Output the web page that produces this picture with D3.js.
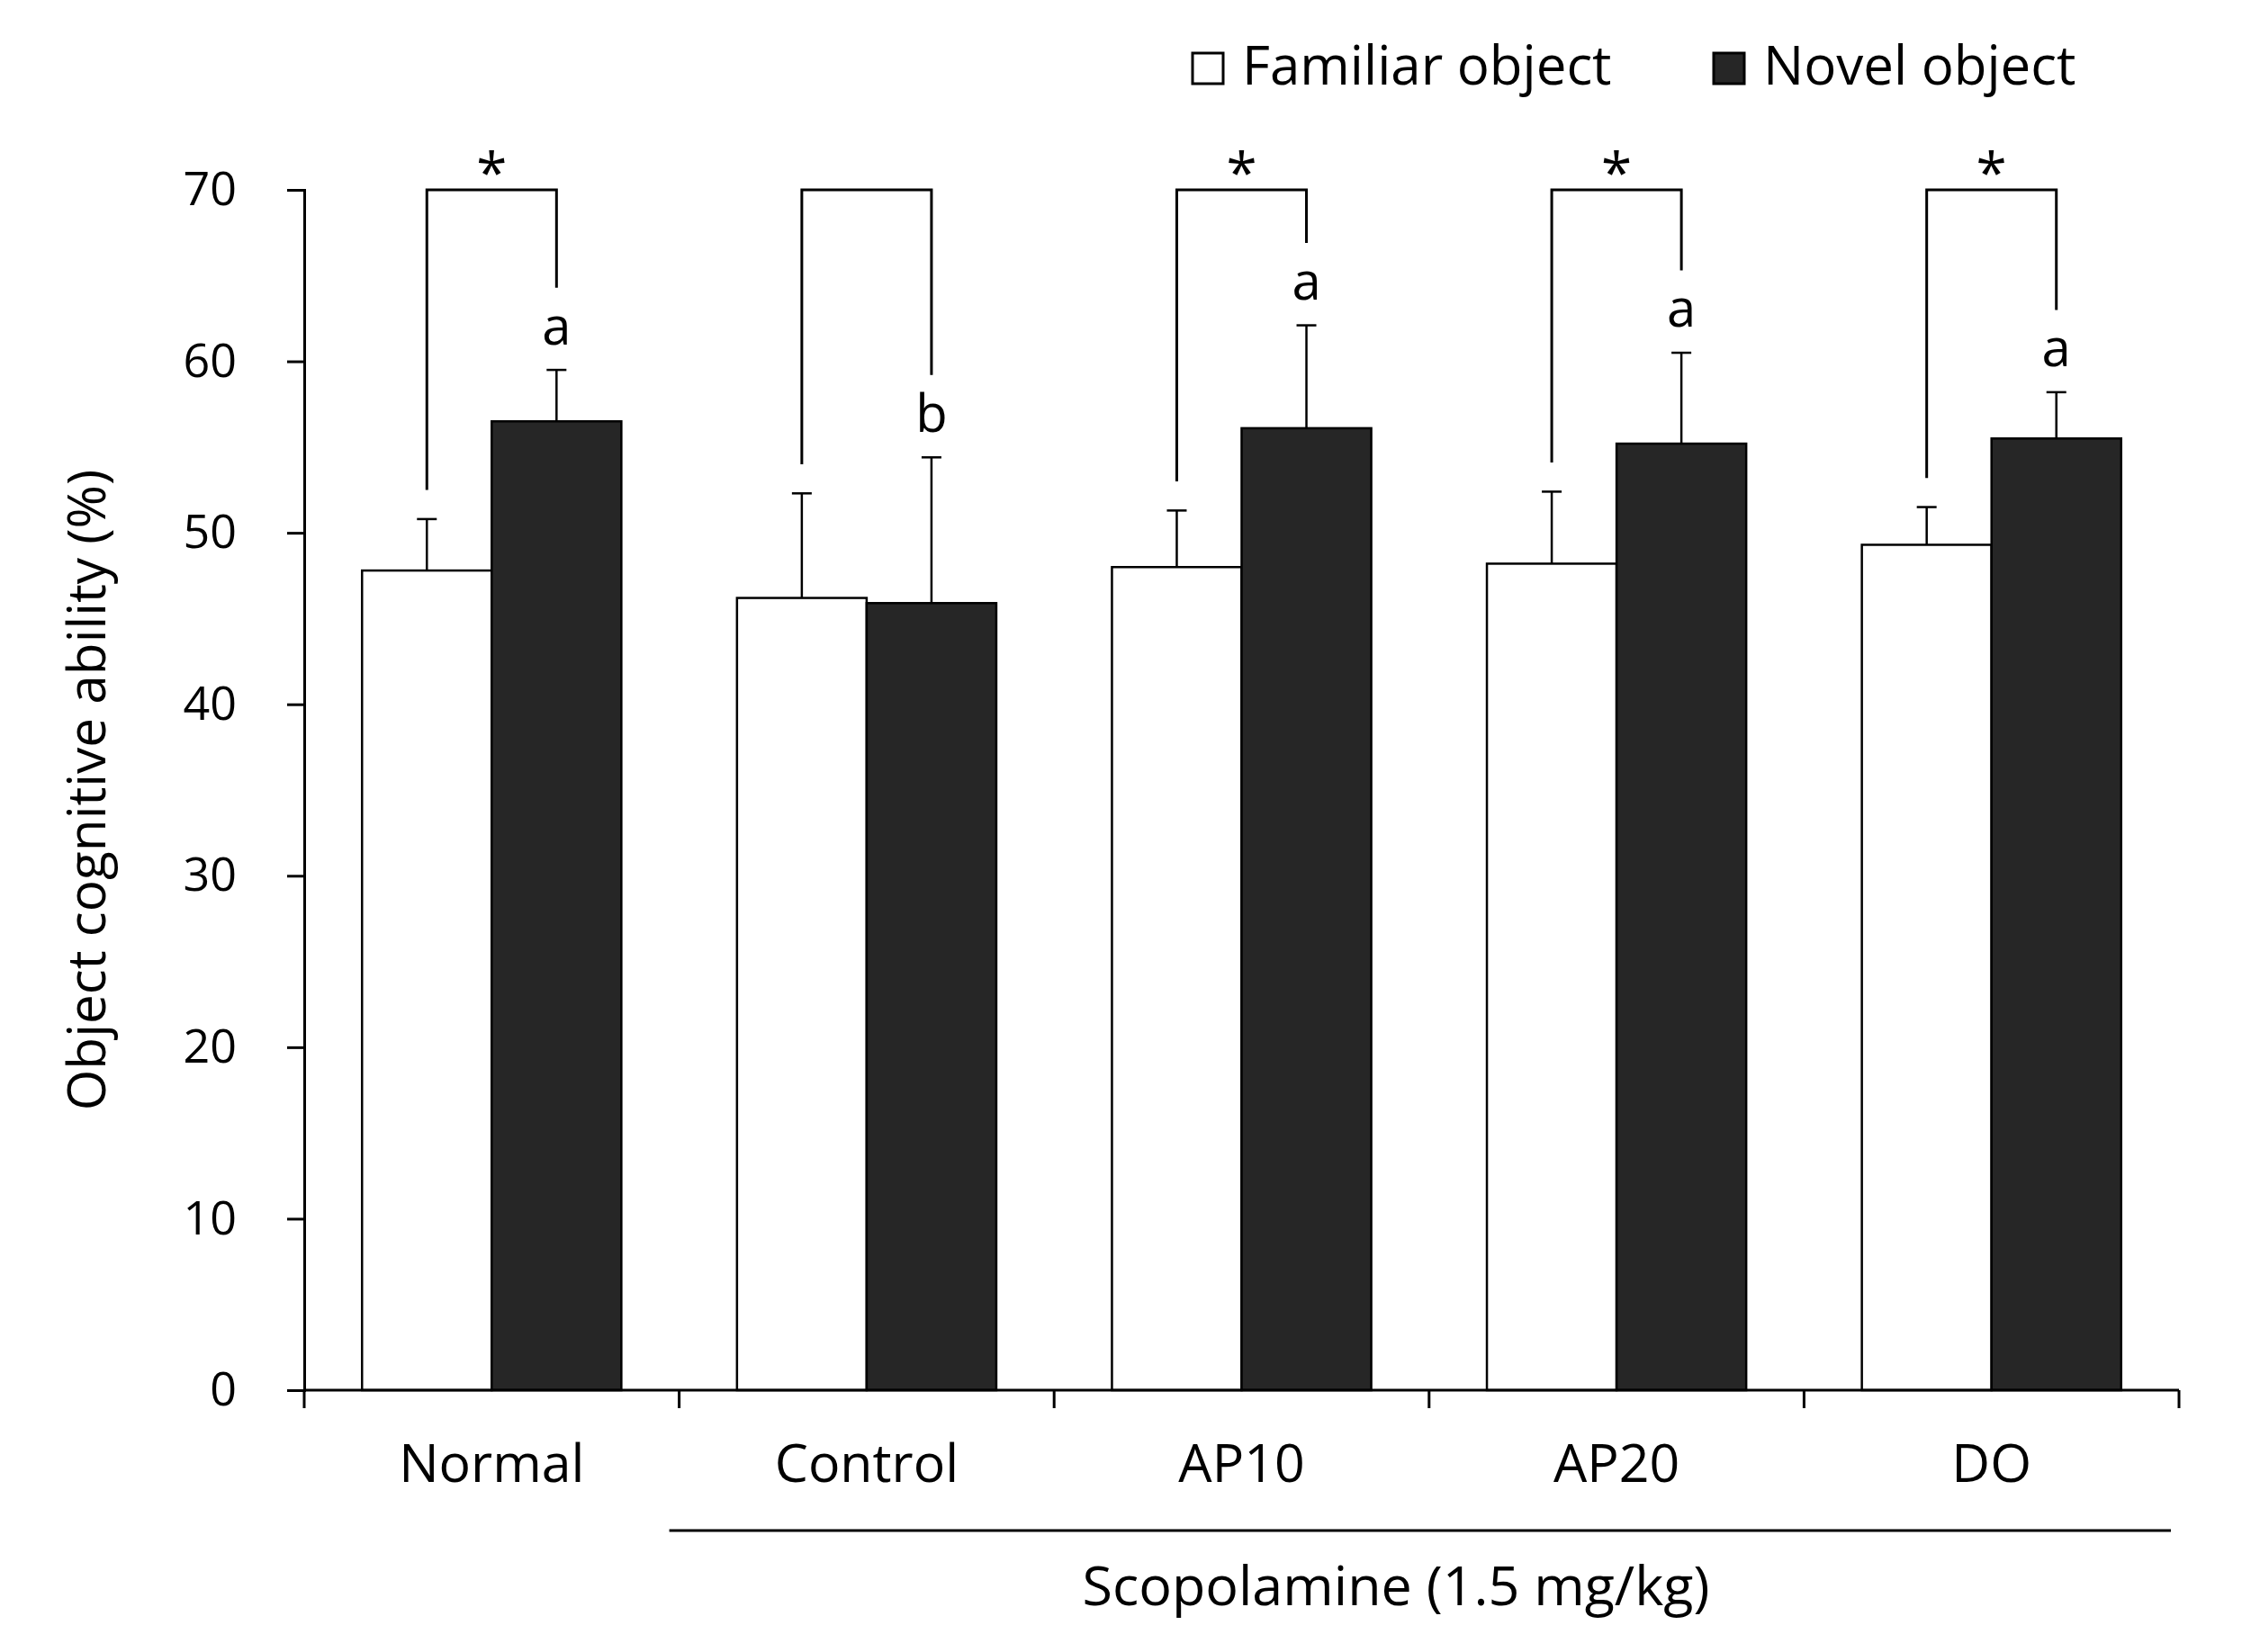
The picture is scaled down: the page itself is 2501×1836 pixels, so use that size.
<!DOCTYPE html>
<html><head><meta charset="utf-8">
<script src="https://cdn.jsdelivr.net/npm/d3@7"></script>
<style>body{margin:0;background:#fff;} svg{display:block;} text{font-family:"Open Sans",sans-serif;fill:#000;}</style>
</head><body>
<svg id="chart" width="2501" height="1836"></svg>
<script>
const categories = ["Normal","Control","AP10","AP20","DO"];
const seriesNames = ["Familiar object","Novel object"];
const familiar = [47.8, 46.2, 48.0, 48.2, 49.3];
const familiarErr = [3.0, 6.1, 3.3, 4.2, 2.2];
const novel = [56.5, 45.9, 56.1, 55.2, 55.5];
const novelErr = [3.0, 8.5, 6.0, 5.3, 2.7];
const letters = ["a","b","a","a","a"];
const stars = ["*","","*","*","*"];
const yTicks = [0,10,20,30,40,50,60,70];
const groupLabel = "Scopolamine (1.5 mg/kg)";
const yTitle = "Object cognitive ability (%)";

const svg = d3.select("#chart");
const L = 338, R = 2421, T = 211, B = 1545;
const x = d3.scaleBand().domain(categories).range([L, R]).paddingInner(0).paddingOuter(0);
const xs = d3.scaleBand().domain(seriesNames).range([0, x.bandwidth()]).paddingInner(0).paddingOuter(0.446);
const y = d3.scaleLinear().domain([0, 70]).range([B, T]);
const fills = ["#ffffff", "#262626"];

const data = categories.map((c, i) => ({c, i, vals: [
  {s: seriesNames[0], v: familiar[i], e: familiarErr[i]},
  {s: seriesNames[1], v: novel[i], e: novelErr[i]}]}));

const g = svg.append("g");
// error bars
data.forEach(d => {
  d.vals.forEach(s => {
    const cx = x(d.c) + xs(s.s) + xs.bandwidth()/2;
    g.append("line").attr("x1", cx).attr("x2", cx).attr("y1", y(s.v)).attr("y2", y(s.v + s.e))
      .attr("stroke", "#000").attr("stroke-width", 2.5);
    g.append("line").attr("x1", cx - 11).attr("x2", cx + 11).attr("y1", y(s.v + s.e)).attr("y2", y(s.v + s.e))
      .attr("stroke", "#000").attr("stroke-width", 2.5);
  });
});
// bars
data.forEach(d => {
  d.vals.forEach((s, k) => {
    g.append("rect").attr("x", x(d.c) + xs(s.s)).attr("width", xs.bandwidth())
      .attr("y", y(s.v)).attr("height", y(0) - y(s.v))
      .attr("fill", fills[k]).attr("stroke", "#000").attr("stroke-width", 2.5);
  });
});
// brackets, letters, stars
data.forEach((d, i) => {
  const c0 = x(d.c) + xs(seriesNames[0]) + xs.bandwidth()/2;
  const c1 = x(d.c) + xs(seriesNames[1]) + xs.bandwidth()/2;
  const top0 = familiar[i] + familiarErr[i];
  const top1 = novel[i] + novelErr[i];
  g.append("path").attr("d", `M${c0},${y(top0 + 1.7)}V${y(70)}H${c1}V${y(top1 + 4.8)}`)
    .attr("fill", "none").attr("stroke", "#000").attr("stroke-width", 3);
  g.append("text").attr("x", c1).attr("y", y(top1 + 1.5)).attr("text-anchor", "middle")
    .attr("font-size", 58).text(letters[i]);
  if (stars[i]) g.append("text").attr("x", (c0 + c1)/2).attr("y", y(70) + 3).attr("text-anchor", "middle")
    .attr("font-size", 62).text(stars[i]);
});

// y axis
const ya = svg.append("g").attr("transform", `translate(${L},0)`)
  .call(d3.axisLeft(y).tickValues(yTicks).tickSize(19).tickPadding(56));
ya.select(".domain").attr("stroke-width", 3);
ya.selectAll(".tick line").attr("stroke-width", 3);
ya.selectAll(".tick text").attr("font-size", 52).attr("font-family", "Open Sans");

// x axis
const xa = svg.append("g").attr("transform", `translate(0,${B})`)
  .call(d3.axisBottom(x).tickSize(0).tickPadding(60));
xa.select(".domain").attr("stroke-width", 3).attr("d", `M${L},0H${R}`);
xa.selectAll(".tick text").attr("font-size", 59).attr("font-family", "Open Sans").attr("dy", "0.72em");
const bounds = categories.map(c => x(c)).concat([x(categories[categories.length-1]) + x.bandwidth()]);
xa.selectAll(".bnd").data(bounds).enter().append("line").attr("class","bnd")
  .attr("x1", d => d).attr("x2", d => d).attr("y1", 0).attr("y2", 20)
  .attr("stroke", "#000").attr("stroke-width", 3);

// group line + label
svg.append("line").attr("x1", x(categories[1]) - 11).attr("x2", R - 9).attr("y1", 1701).attr("y2", 1701)
  .attr("stroke", "#000").attr("stroke-width", 3);
svg.append("text").attr("x", 1551).attr("y", 1784).attr("text-anchor", "middle").attr("font-size", 61).text(groupLabel);

// y title
svg.append("text").attr("transform", `translate(117,${(T+B)/2}) rotate(-90)`).attr("text-anchor", "middle")
  .attr("font-size", 58.5).text(yTitle);

// legend
const legX = [1325, 1904];
seriesNames.forEach((s, k) => {
  svg.append("rect").attr("x", legX[k]).attr("y", 59).attr("width", 34).attr("height", 34)
    .attr("fill", fills[k]).attr("stroke", "#000").attr("stroke-width", 3);
  svg.append("text").attr("x", legX[k] + 55).attr("y", 94).attr("font-size", 60).text(s);
});
</script>
</body></html>
